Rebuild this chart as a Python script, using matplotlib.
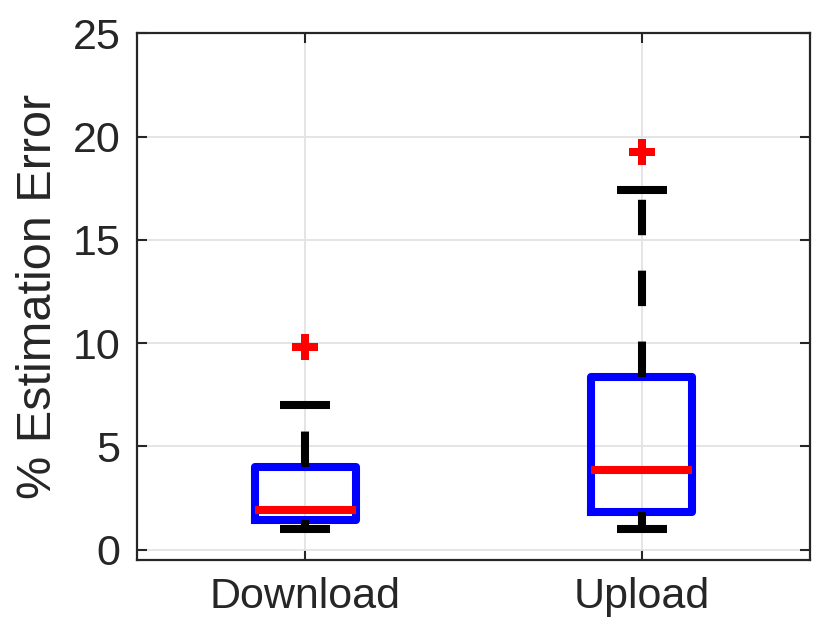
import matplotlib.pyplot as plt

plt.rcParams['font.family'] = ['Liberation Sans', 'DejaVu Sans']

# box statistics
labels = ['Download', 'Upload']
whislo = [1.0, 1.0]
q1 = [1.45, 1.85]
med = [1.9, 3.85]
q3 = [4.0, 8.35]
whishi = [7.0, 17.4]
fliers = [[9.8], [19.25]]

yticks = [0, 5, 10, 15, 20, 25]

stats = []
for i in range(len(labels)):
    stats.append(dict(label=labels[i], whislo=whislo[i], q1=q1[i], med=med[i],
                      q3=q3[i], whishi=whishi[i], fliers=fliers[i]))

fig = plt.figure(figsize=(8.3, 6.43), dpi=100)
ax = fig.add_axes([0.165, 0.129, 0.811, 0.819])

ax.bxp(stats, positions=[1, 2], widths=0.3, capwidths=[0.15, 0.15],
       boxprops=dict(color='#0000ff', linewidth=5.8, solid_joinstyle='round'),
       medianprops=dict(color='#ff0000', linewidth=5.8, solid_capstyle='butt'),
       whiskerprops=dict(color='black', linewidth=5.8, linestyle=(0, (4.4, 4.4))),
       capprops=dict(color='black', linewidth=5.8, solid_capstyle='butt'),
       flierprops=dict(marker='P', markerfacecolor='#ff0000', markeredgewidth=0,
                       markersize=19))

ax.set_xlim(0.5, 2.5)
ax.set_ylim(-0.5, 25)
ax.set_yticks(yticks)
ax.set_xticks([1, 2])
ax.set_xticklabels(labels)
ax.grid(True, color='#e3e3e3', linewidth=1.3)
ax.set_axisbelow(True)

ax.tick_params(direction='in', length=7, width=1.5, labelsize=31, colors='#262626',
               top=True, right=True, pad=12)
for s in ax.spines.values():
    s.set_linewidth(1.6)
    s.set_color('#262626')

ax.set_ylabel('% Estimation Error', fontsize=35, color='#262626', labelpad=8)

fig.savefig('out.png', dpi=100)
